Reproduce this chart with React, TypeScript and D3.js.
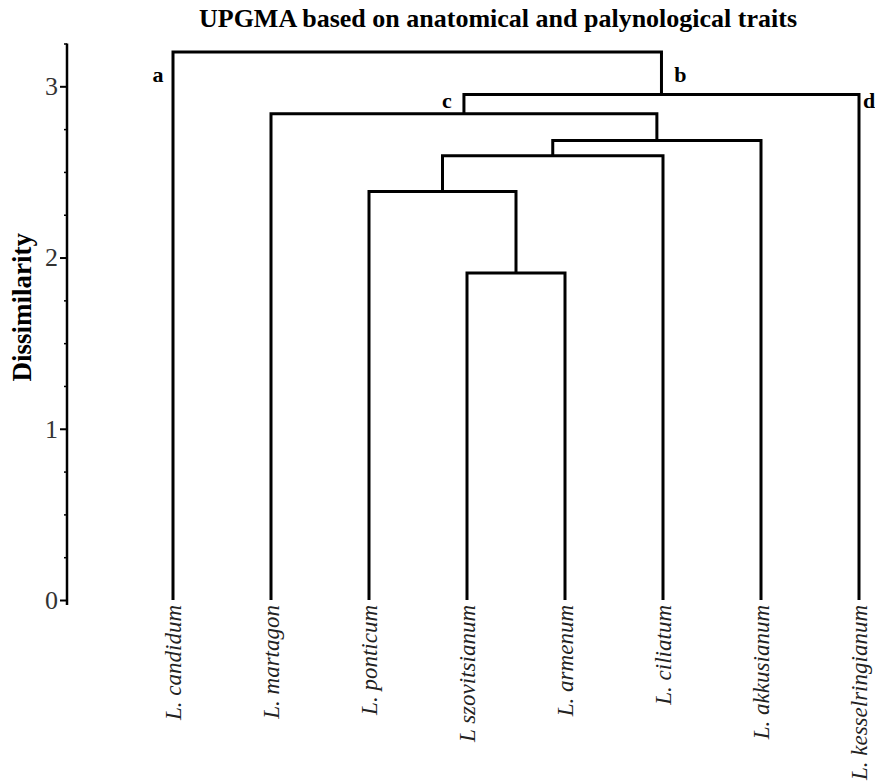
import { useEffect, useRef } from 'react';
import * as d3 from 'd3';

// leaves, left to right as drawn
const leaves = ['L. candidum', 'L. martagon', 'L. ponticum', 'L szovitsianum', 'L. armenum', 'L. ciliatum', 'L. akkusianum', 'L. kesselringianum'];

// UPGMA merges (bottom-up)
const mergeIds = ['n1', 'n2', 'n3', 'n4', 'n5', 'n6', 'root'];
const mergeLeft = ['L szovitsianum', 'L. ponticum', 'n2', 'n3', 'L. martagon', 'n5', 'L. candidum'];
const mergeRight = ['L. armenum', 'n1', 'L. ciliatum', 'L. akkusianum', 'n4', 'L. kesselringianum', 'n6'];
const mergeHeight = [1.91, 2.385, 2.595, 2.683, 2.84, 2.952, 3.2];

const majorTicks = [0, 1, 2, 3];
const minorTicks = [0.25, 0.5, 0.75, 1.25, 1.5, 1.75, 2.25, 2.5, 2.75, 3.25];

// letters sit beside the vertical of `clusterAt`, just under the bar of `clusterUnder`
const clusterLabels = ['a', 'b', 'c', 'd'];
const clusterAt = ['L. candidum', 'n6', 'n5', 'L. kesselringianum'];
const clusterUnder = ['root', 'root', 'n6', 'n6'];

const serif = '"Liberation Serif", "Times New Roman", serif';

export default function App() {
  const ref = useRef<SVGSVGElement>(null);

  useEffect(() => {
    const svg = d3.select(ref.current);
    svg.selectAll('*').remove();

    const x = d3.scalePoint<string>().domain(leaves).range([173, 859]);
    const y = d3.scaleLinear().domain([0, 3.25]).range([600, 43.5]);

    const pos: Record<string, { x: number; h: number }> = {};
    leaves.forEach((l) => (pos[l] = { x: x(l) as number, h: 0 }));
    mergeIds.forEach((id, i) => {
      const a = pos[mergeLeft[i]];
      const b = pos[mergeRight[i]];
      pos[id] = { x: (a.x + b.x) / 2, h: mergeHeight[i] };
    });

    // dendrogram elbows
    const g = svg.append('g');
    mergeIds.forEach((id, i) => {
      const a = pos[mergeLeft[i]];
      const b = pos[mergeRight[i]];
      const hy = y(mergeHeight[i]);
      g.append('path')
        .attr('d', `M${a.x},${y(a.h)}V${hy}H${b.x}V${y(b.h)}`)
        .attr('fill', 'none')
        .attr('stroke', '#000')
        .attr('stroke-width', 3)
        .attr('stroke-linejoin', 'miter');
    });

    // y axis
    const axisG = svg.append('g').attr('transform', 'translate(67,0)');
    axisG.call(
      d3.axisLeft(y).tickValues(majorTicks).tickSize(7).tickSizeOuter(0).tickPadding(2).tickFormat(d3.format('d'))
    );
    axisG.select('.domain').remove();
    axisG.append('line')
      .attr('x1', 0).attr('x2', 0)
      .attr('y1', y(3.25)).attr('y2', y(0) + 5)
      .attr('stroke', '#000').attr('stroke-width', 2.5);
    axisG.selectAll('.tick line').attr('stroke-width', 2);
    axisG.selectAll('.tick text')
      .attr('font-family', serif)
      .attr('font-size', 26)
      .attr('fill', '#333');

    const minorG = svg.append('g').attr('transform', 'translate(67,0)');
    minorG.call(d3.axisLeft(y).tickValues(minorTicks).tickSize(3).tickFormat(() => ''));
    minorG.select('.domain').remove();
    minorG.selectAll('.tick line').attr('stroke-width', 1.5);

    // axis title
    svg.append('text')
      .attr('transform', `translate(31,${y(1.71)}) rotate(-90)`)
      .attr('text-anchor', 'middle')
      .attr('font-family', serif)
      .attr('font-weight', 'bold')
      .attr('font-size', 27)
      .text('Dissimilarity');

    // chart title
    svg.append('text')
      .attr('x', 498)
      .attr('y', 27)
      .attr('text-anchor', 'middle')
      .attr('font-family', serif)
      .attr('font-weight', 'bold')
      .attr('font-size', 26)
      .text('UPGMA based on anatomical and palynological traits');

    // leaf labels
    svg.append('g')
      .selectAll('text')
      .data(leaves)
      .join('text')
      .attr('transform', (d) => `translate(${x(d)},605) rotate(-90)`)
      .attr('dy', '0.33em')
      .attr('text-anchor', 'end')
      .attr('font-family', serif)
      .attr('font-style', 'italic')
      .attr('font-size', 23)
      .attr('fill', '#222')
      .text((d) => d);

    // cluster letters
    const offsets = [
      { dx: -15, dy: 30 },
      { dx: 19, dy: 30 },
      { dx: -17, dy: 13 },
      { dx: 10, dy: 13 },
    ];
    clusterLabels.forEach((lab, i) => {
      const o = offsets[i];
      svg.append('text')
        .attr('x', pos[clusterAt[i]].x + o.dx)
        .attr('y', y(pos[clusterUnder[i]].h) + o.dy)
        .attr('text-anchor', 'middle')
        .attr('font-family', serif)
        .attr('font-weight', 'bold')
        .attr('font-size', 22)
        .text(lab);
    });
  }, []);

  return (
    <svg
      ref={ref}
      width={875}
      height={784}
      style={{ position: 'absolute', left: 0, top: 0, background: '#fff' }}
    />
  );
}
